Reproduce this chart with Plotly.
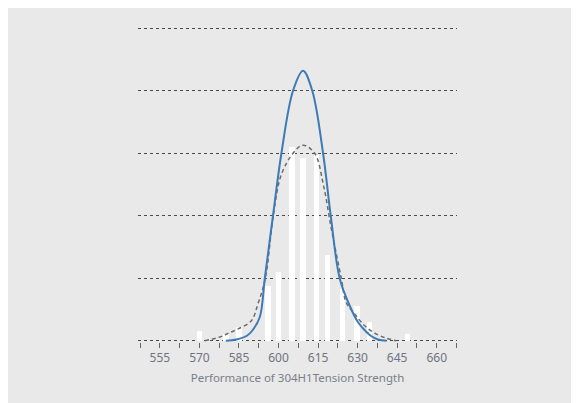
import plotly.graph_objects as go

# Histogram bars
bar_x = [570, 580, 585, 596, 600, 605, 609.2, 614.4, 618.6, 624.3, 629.9, 634.5, 648.9]
bar_y = [1.6, 1.1, 2.2, 8.7, 11.0, 31.0, 29.2, 29.7, 13.7, 8.3, 5.6, 3.0, 1.1]

# Fitted normal curve (blue)
normal_x = [580, 584, 588, 590, 592.9, 594.8, 597.9, 601.1, 605.5, 609.3, 612.8, 616.9, 619.8, 623.2, 627, 630.1, 632, 635, 637.7, 641]
normal_y = [0, 0.2, 0.8, 1.6, 3.8, 10, 20, 30, 40, 43.2, 40, 30, 20, 10, 5.6, 3.0, 2.0, 0.8, 0.2, 0]

# Density curve (grey dashed)
dens_x = [572, 577.7, 581, 584.7, 589.7, 592.2, 595, 598, 601, 605.5, 609.3, 613.7, 617, 620, 623.8, 625.7, 628.9, 632.7, 637, 641, 644.7]
dens_y = [0, 0.6, 1.2, 1.9, 3.2, 5.9, 10, 20, 26.5, 30, 31.3, 30, 25, 18, 10, 6.1, 4.3, 2.4, 1.1, 0.4, 0]

tick_vals = [555, 570, 585, 600, 615, 630, 645, 660]
x_title = "Performance of 304H1Tension Strength"

panel = "#e8e9e8"
fig = go.Figure()
fig.add_trace(go.Bar(x=bar_x, y=bar_y, width=2.2, marker=dict(color="white", line=dict(width=0)),
                     showlegend=False, hoverinfo="skip"))
fig.add_trace(go.Scatter(x=dens_x, y=dens_y, mode="lines", line=dict(color="#6b6b6b", width=1.5, dash="4px,3px", shape="spline"),
                         showlegend=False))
fig.add_trace(go.Scatter(x=normal_x, y=normal_y, mode="lines", line=dict(color="#3d7ab6", width=2, shape="spline"),
                         showlegend=False))

W, H = 571, 395
L, R, T, B = 130, 122, 19, 61
fig.update_layout(
    width=W, height=H,
    margin=dict(l=L, r=R, t=T, b=B),
    paper_bgcolor=panel, plot_bgcolor=panel,
    bargap=0,
    font=dict(family="Noto Sans", color="#6f7482"),
    xaxis=dict(range=[546.7, 667.7], tickvals=tick_vals, ticks="outside", ticklen=5, tickcolor="#666",
               showgrid=False, zeroline=False, showline=False,
               minor=dict(dtick=7.5, tick0=547.5, ticks="outside", ticklen=5, tickcolor="#666", showgrid=False),
               tickfont=dict(size=12, color="#6f7482"),
               title=dict(text=x_title, font=dict(size=11.5, color="#7a7e88"), standoff=8)),
    yaxis=dict(range=[-0.2, 50.2], dtick=10, showticklabels=False, ticks="",
               showgrid=True, gridcolor="#4a4a4a", griddash="dot", gridwidth=1.4,
               zeroline=False, showline=False),
)
fig.write_html("out.html")
